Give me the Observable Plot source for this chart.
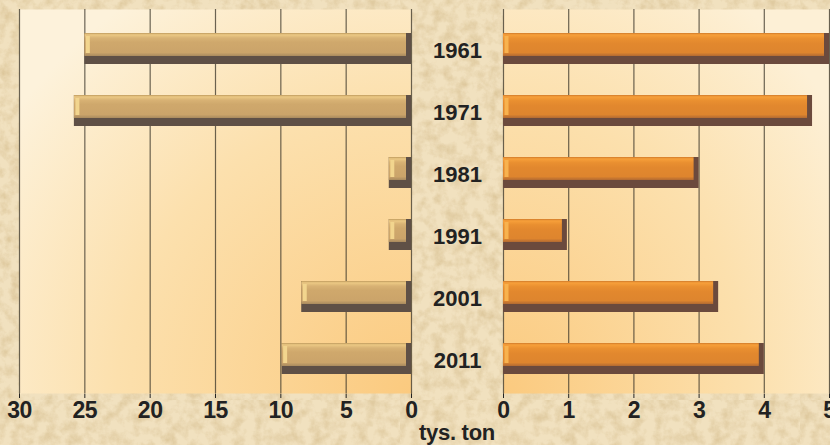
<!DOCTYPE html>
<html><head><meta charset="utf-8">
<script src="https://cdn.jsdelivr.net/npm/d3@7"></script>
<script src="https://cdn.jsdelivr.net/npm/@observablehq/plot@0.6"></script>
<style>
html,body{margin:0;padding:0;}
body{width:830px;height:445px;overflow:hidden;background-color:#f1e1bf;
background-image:url("data:image/svg+xml,%3Csvg xmlns='http://www.w3.org/2000/svg' width='400' height='400'%3E%3Cfilter id='n'%3E%3CfeTurbulence type='fractalNoise' baseFrequency='0.09' numOctaves='4' seed='3'/%3E%3CfeColorMatrix values='0 0 0 0 0.66 0 0 0 0 0.5 0 0 0 0 0.26 1.3 0 0 0 -0.5'/%3E%3C/filter%3E%3Crect width='100%25' height='100%25' filter='url(%23n)'/%3E%3C/svg%3E");}
#wrap{position:relative;width:830px;height:445px;}
#left,#right{position:absolute;top:0;}
#left{left:0;}
#right{left:457px;}
#unit{position:absolute;left:357px;width:200px;text-align:center;top:420px;
font:bold 22px "Liberation Sans",Arial,sans-serif;color:#222;letter-spacing:-0.3px;}
svg g[aria-label="x-axis"] text, svg g[aria-label="x-axis tick label"] text{
font:bold 23px "Liberation Sans",Arial,sans-serif;fill:#222;letter-spacing:-0.5px;}
</style></head>
<body><div id="wrap"><div id="left"></div><div id="right"></div><div id="unit">tys. ton</div></div>
<script>
const years = ["1961","1971","1981","1991","2001","2011"];
const leftValues = [25.0, 25.8, 1.7, 1.7, 8.4, 9.9];
const rightValues = [5.0, 4.74, 3.0, 0.98, 3.3, 4.0];
const leftTicks = [30,25,20,15,10,5,0];
const rightTicks = [0,1,2,3,4,5];

const leftData = years.map((y,i)=>({year:y, value:leftValues[i]}));
const rightData = years.map((y,i)=>({year:y, value:rightValues[i]}));

function addDefs(svg, defs){
  const d = d3.select(svg).insert("defs", ":first-child");
  defs(d);
}
function vgrad(d, id, stops){
  const g = d.append("linearGradient").attr("id",id).attr("x1",0).attr("y1",0).attr("x2",0).attr("y2",1);
  stops.forEach(([o,c])=>g.append("stop").attr("offset",o).attr("stop-color",c));
}
function rgrad(d, id, cx, stops){
  const g = d.append("radialGradient").attr("id",id).attr("cx",cx).attr("cy",1).attr("r",1.25).attr("fx",cx).attr("fy",1);
  stops.forEach(([o,c])=>g.append("stop").attr("offset",o).attr("stop-color",c));
}
const common = {
  height: 445, marginTop: 9, marginBottom: 52,
  style: {background:"transparent", overflow:"visible", color:"#222"},
  y: {domain: years, range:[15, 392], paddingInner: 0.5, paddingOuter: 0.25, axis: null}
};
function barMarks(data, shadow, face){
  return [
    Plot.barX(data, {y:"year", x1:0, x2:"value", fill:shadow}),
    Plot.barX(data, {y:"year", x1:0, x2:"value", fill:face, insetBottom:8, insetRight:5}),
  ];
}

const left = Plot.plot({
  ...common, width: 503, marginLeft: 19, marginRight: 92,
  x: {domain:[30,0], ticks: leftTicks, tickSize:5, tickPadding:3, tickFormat: d=>String(d), label:null},
  marks: [
    Plot.frame({fill:"url(#bgL)"}),
    Plot.ruleX(leftTicks, {stroke:"#3a3428", strokeOpacity:0.75, strokeWidth:1.2}),
    ...barMarks(leftData, "#5f5046", "url(#faceL)"),
    Plot.tickX(leftData, {x:"value", y:"year", stroke:"#f2d58e", strokeWidth:4, dx:3, insetTop:3, insetBottom:11}),
    Plot.text(years, {x:0, y:d=>d, text:d=>d, dx:46, dy:2, fontSize:22, fontWeight:"bold", fill:"#222", fontFamily:"'Liberation Sans', Arial, sans-serif"})
  ]
});
addDefs(left, d=>{
  rgrad(d,"bgL",1,[[0,"#fbca7f"],[0.6,"#fce0ad"],[1,"#fdf2db"]]);
  vgrad(d,"faceL",[[0,"#bf9a5e"],[0.08,"#ecc984"],[0.22,"#d8b274"],[0.4,"#cfa86c"],[0.85,"#cba46a"],[1,"#a98a5e"]]);
});
document.getElementById("left").append(left);

const right = Plot.plot({
  ...common, width: 373, marginLeft: 46, marginRight: 1,
  x: {domain:[0,5], ticks: rightTicks, tickSize:5, tickPadding:3, tickFormat: d=>String(d), label:null},
  marks: [
    Plot.frame({fill:"url(#bgR)"}),
    Plot.ruleX(rightTicks, {stroke:"#3a3428", strokeOpacity:0.75, strokeWidth:1.2}),
    ...barMarks(rightData, "#6b4a3d", "url(#faceR)"),
    Plot.tickX(rightData, {x:0, y:"year", stroke:"#f8b24e", strokeWidth:4, dx:3, insetTop:3, insetBottom:11}),
  ]
});
addDefs(right, d=>{
  rgrad(d,"bgR",0,[[0,"#fbca7f"],[0.6,"#fce0ad"],[1,"#fdf0d6"]]);
  vgrad(d,"faceR",[[0,"#d07a2a"],[0.08,"#f7a03a"],[0.25,"#e98f30"],[0.45,"#e2882e"],[0.85,"#de852e"],[1,"#b26a32"]]);
});
document.getElementById("right").append(right);
</script></body></html>
